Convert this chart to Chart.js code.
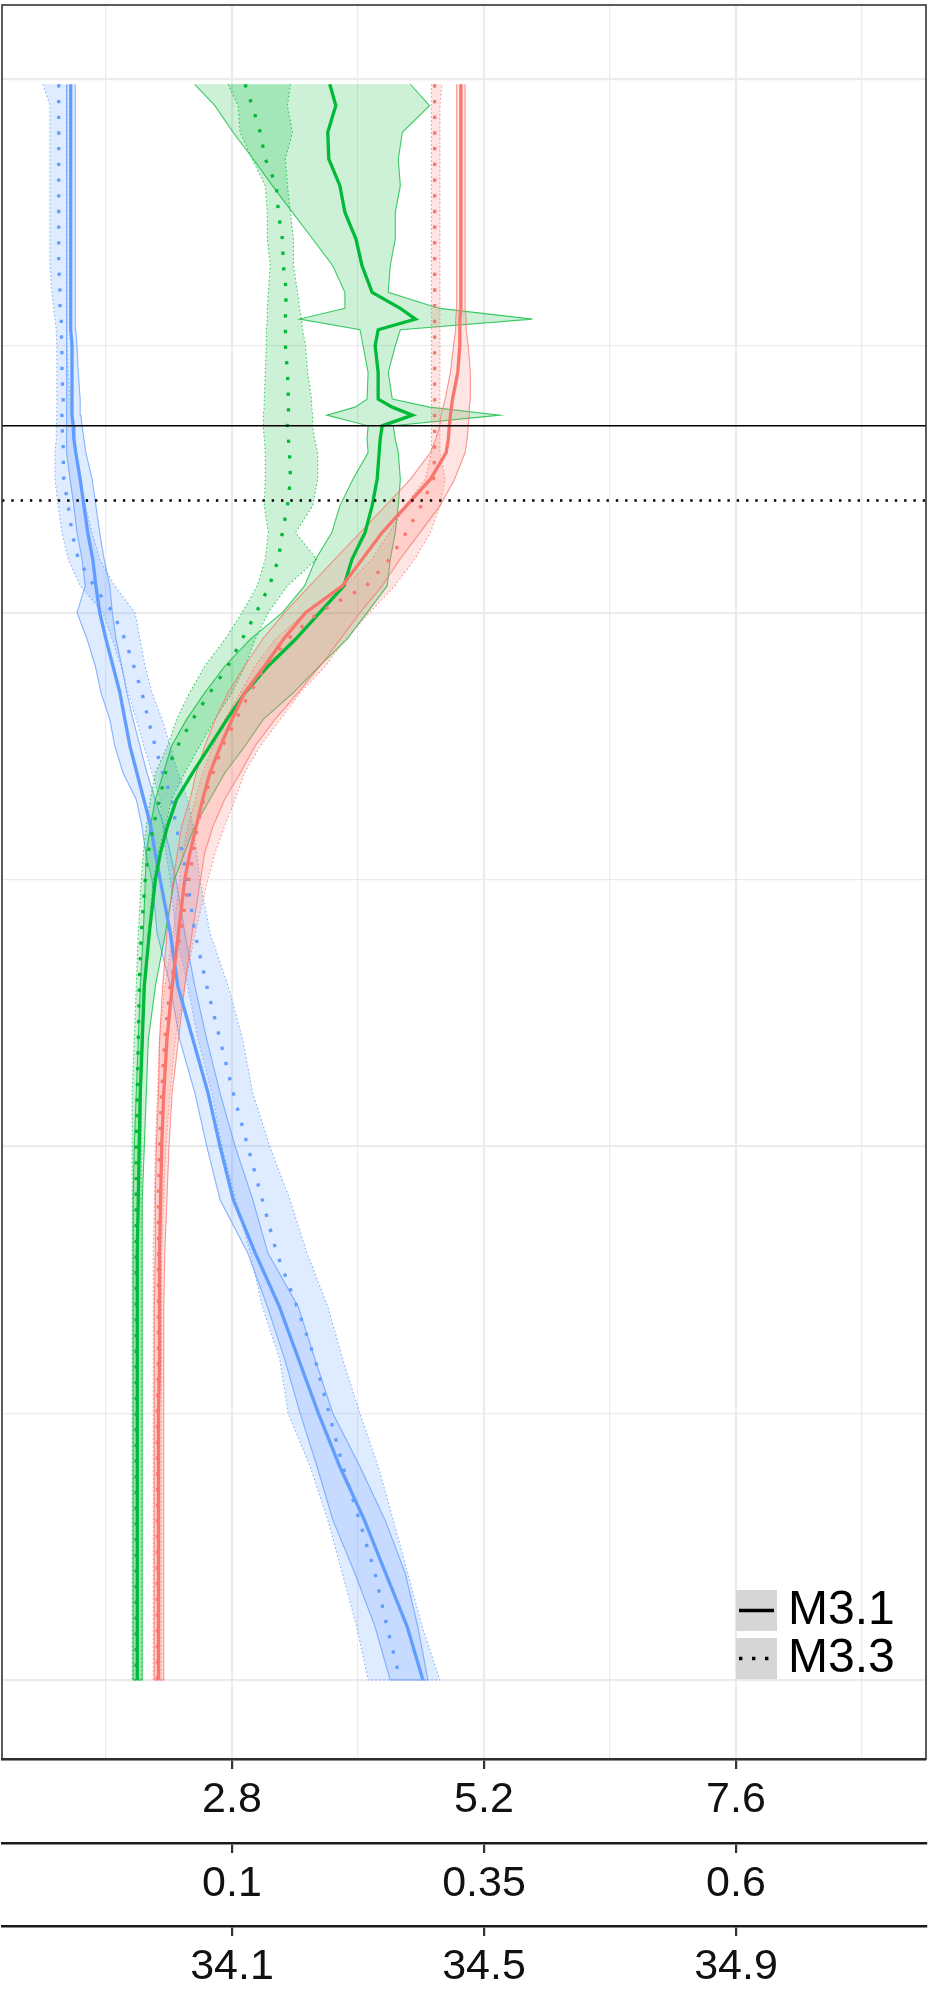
<!DOCTYPE html>
<html>
<head>
<meta charset="utf-8">
<script src="https://cdn.jsdelivr.net/npm/chart.js@4.4.1/dist/chart.umd.min.js"></script>
<style>
  html, body { margin: 0; padding: 0; background: #fff; }
  #wrap { position: relative; width: 928px; height: 1999px; }
</style>
</head>
<body>
<div id="wrap"><canvas id="profile"></canvas></div>
<script>
// ---------- data ----------
// depth of every sample (shared by all series), increasing downward
const depth = [2,10,20,30,40,50,60,70,80,86,90,94,100,110,120,123,126,130,135,140,150,
  160,170,180,190,200,210,220,230,240,250,260,270,280,290,300,
  320,340,360,380,400,420,440,460,480,500,520,540,560,580,600];

// red profile, read on the 2.8 / 5.2 / 7.6 axis
const redM31   = [4.98,4.98,4.98,4.98,4.98,4.98,4.98,4.98,4.98,4.98,4.97,4.97,4.97,4.95,4.90,4.89,4.88,4.87,4.86,4.84,4.69,
  4.46,4.23,4.04,3.85,3.50,3.29,3.11,2.92,2.80,2.69,2.59,2.52,2.46,2.40,2.35,
  2.29,2.23,2.18,2.15,2.13,2.12,2.11,2.11,2.11,2.10,2.10,2.10,2.10,2.10,2.10];
const redM31Lo = [4.94,4.94,4.94,4.94,4.94,4.94,4.94,4.94,4.94,4.94,4.93,4.93,4.91,4.88,4.83,4.81,4.79,4.78,4.74,4.69,4.50,
  4.26,4.02,3.78,3.54,3.30,3.09,2.92,2.76,2.64,2.54,2.46,2.40,2.32,2.28,2.24,
  2.18,2.14,2.11,2.10,2.08,2.07,2.07,2.06,2.06,2.06,2.06,2.06,2.06,2.06,2.06];
const redM31Hi = [5.02,5.02,5.02,5.02,5.02,5.02,5.02,5.02,5.02,5.02,5.03,5.03,5.05,5.07,5.07,5.06,5.06,5.05,5.04,5.02,4.92,
  4.78,4.59,4.40,4.23,4.02,3.83,3.64,3.43,3.21,3.02,2.88,2.73,2.62,2.54,2.50,
  2.42,2.35,2.29,2.23,2.20,2.18,2.16,2.15,2.15,2.15,2.15,2.15,2.15,2.15,2.15];
const redM33   = [4.73,4.73,4.73,4.73,4.73,4.73,4.73,4.73,4.73,4.73,4.73,4.73,4.73,4.73,4.73,4.73,4.73,4.73,4.73,4.73,4.72,
  4.60,4.46,4.30,4.08,3.62,3.33,3.12,2.97,2.84,2.71,2.62,2.53,2.47,2.43,2.39,
  2.31,2.21,2.16,2.13,2.11,2.10,2.10,2.10,2.10,2.09,2.09,2.09,2.09,2.09,2.09];
const redM33Lo = [4.70,4.70,4.70,4.70,4.70,4.70,4.70,4.70,4.70,4.70,4.70,4.70,4.70,4.70,4.70,4.70,4.70,4.70,4.70,4.70,4.64,
  4.45,4.30,4.13,3.88,3.50,3.21,3.02,2.88,2.73,2.62,2.52,2.45,2.38,2.33,2.30,
  2.24,2.16,2.11,2.09,2.07,2.06,2.05,2.05,2.05,2.05,2.05,2.05,2.05,2.05,2.05];
const redM33Hi = [4.80,4.78,4.78,4.78,4.78,4.78,4.78,4.78,4.78,4.78,4.78,4.78,4.78,4.78,4.78,4.78,4.78,4.78,4.78,4.78,4.83,
  4.78,4.69,4.54,4.35,4.11,3.88,3.69,3.45,3.26,3.07,2.92,2.83,2.73,2.64,2.57,
  2.45,2.35,2.26,2.21,2.17,2.15,2.13,2.13,2.13,2.13,2.13,2.13,2.13,2.13,2.13];

// green profile, read on the 0.1 / 0.35 / 0.6 axis
const greenM31   = [0.197,0.203,0.195,0.196,0.207,0.212,0.223,0.229,0.239,0.267,0.282,0.245,0.242,0.245,0.245,0.259,0.279,0.249,0.247,0.246,0.244,
  0.239,0.232,0.219,0.211,0.187,0.163,0.136,0.113,0.095,0.078,0.061,0.045,0.036,0.029,0.024,
  0.018,0.013,0.011,0.009,0.008,0.007,0.006,0.006,0.006,0.006,0.006,0.006,0.006,0.006,0.006];
const greenM31Lo = [0.063,0.083,0.101,0.121,0.140,0.160,0.180,0.200,0.212,0.212,0.167,0.227,0.230,0.235,0.234,0.222,0.194,0.235,0.234,0.235,0.220,
  0.207,0.199,0.183,0.172,0.150,0.118,0.093,0.073,0.055,0.040,0.032,0.024,0.019,0.015,0.014,
  0.012,0.009,0.007,0.005,0.003,0.002,0.002,0.002,0.002,0.002,0.002,0.002,0.002,0.002,0.002];
const greenM31Hi = [0.277,0.296,0.269,0.265,0.267,0.262,0.262,0.257,0.255,0.306,0.398,0.267,0.262,0.255,0.259,0.296,0.366,0.260,0.262,0.265,0.267,
  0.265,0.262,0.257,0.254,0.234,0.214,0.187,0.161,0.131,0.113,0.093,0.078,0.063,0.053,0.043,
  0.034,0.024,0.017,0.015,0.013,0.011,0.011,0.011,0.011,0.011,0.011,0.011,0.011,0.011,0.011];
const greenM33   = [0.113,0.120,0.128,0.133,0.144,0.146,0.150,0.151,0.154,0.153,0.153,0.153,0.153,0.155,0.156,0.156,0.156,0.155,0.156,0.157,0.158,
  0.155,0.150,0.146,0.137,0.124,0.110,0.096,0.078,0.061,0.046,0.034,0.028,0.022,0.017,0.014,
  0.010,0.008,0.007,0.006,0.005,0.005,0.005,0.005,0.005,0.005,0.005,0.005,0.005,0.005,0.005];
const greenM33Lo = [0.096,0.106,0.108,0.120,0.133,0.135,0.135,0.138,0.136,0.135,0.135,0.134,0.134,0.133,0.132,0.132,0.131,0.131,0.132,0.133,0.133,
  0.132,0.136,0.133,0.125,0.110,0.093,0.073,0.058,0.045,0.036,0.024,0.019,0.015,0.012,0.010,
  0.007,0.005,0.003,0.001,0.001,0.001,0.001,0.001,0.001,0.001,0.001,0.001,0.001,0.001,0.001];
const greenM33Hi = [0.158,0.155,0.160,0.153,0.155,0.158,0.161,0.161,0.165,0.167,0.169,0.170,0.173,0.175,0.179,0.179,0.180,0.180,0.182,0.185,0.185,
  0.180,0.163,0.184,0.155,0.136,0.123,0.113,0.100,0.083,0.068,0.053,0.040,0.034,0.027,0.022,
  0.017,0.013,0.012,0.010,0.010,0.010,0.010,0.010,0.010,0.010,0.010,0.010,0.010,0.010,0.010];

// blue profile, read on the 34.1 / 34.5 / 34.9 axis
const blueM31   = [33.844,33.844,33.844,33.844,33.844,33.844,33.844,33.844,33.844,33.844,33.844,33.844,33.846,33.846,33.846,33.846,33.846,33.848,33.849,33.852,33.859,
  33.865,33.871,33.879,33.884,33.890,33.900,33.911,33.922,33.930,33.938,33.949,33.960,33.971,33.978,33.986,
  34.002,34.014,34.038,34.062,34.081,34.102,34.137,34.175,34.206,34.237,34.271,34.310,34.344,34.378,34.403];
const blueM31Lo = [33.838,33.838,33.838,33.838,33.838,33.838,33.838,33.838,33.838,33.837,33.837,33.837,33.837,33.837,33.837,33.837,33.837,33.837,33.837,33.838,33.843,
  33.849,33.854,33.862,33.867,33.854,33.870,33.883,33.892,33.906,33.914,33.927,33.948,33.957,33.963,33.973,
  33.981,34.002,34.017,34.041,34.060,34.081,34.125,34.156,34.184,34.208,34.235,34.260,34.295,34.327,34.351];
const blueM31Hi = [33.851,33.851,33.851,33.851,33.851,33.851,33.851,33.851,33.851,33.852,33.852,33.852,33.854,33.856,33.859,33.859,33.860,33.862,33.865,33.868,33.878,
  33.884,33.890,33.897,33.906,33.910,33.916,33.925,33.933,33.943,33.954,33.965,33.978,33.992,34.002,34.011,
  34.025,34.041,34.060,34.081,34.105,34.133,34.157,34.205,34.232,34.260,34.303,34.343,34.375,34.395,34.411];
const blueM33   = [33.825,33.825,33.825,33.825,33.825,33.825,33.825,33.825,33.827,33.827,33.829,33.829,33.830,33.830,33.832,33.832,33.830,33.830,33.832,33.832,33.833,
  33.840,33.846,33.856,33.881,33.911,33.930,33.944,33.957,33.967,33.978,33.990,34.005,34.011,34.021,34.029,
  34.041,34.060,34.081,34.102,34.125,34.148,34.171,34.203,34.232,34.254,34.276,34.302,34.327,34.346,34.367];
const blueM33Lo = [33.800,33.811,33.811,33.811,33.811,33.811,33.811,33.811,33.814,33.817,33.819,33.821,33.822,33.822,33.822,33.822,33.822,33.821,33.821,33.819,33.819,
  33.824,33.830,33.840,33.859,33.895,33.910,33.924,33.935,33.948,33.960,33.973,33.986,33.990,33.995,34.002,
  34.011,34.030,34.046,34.068,34.084,34.106,34.129,34.148,34.176,34.189,34.224,34.252,34.275,34.298,34.316];
const blueM33Hi = [33.838,33.838,33.838,33.838,33.838,33.838,33.838,33.838,33.838,33.838,33.838,33.838,33.838,33.840,33.843,33.843,33.844,33.846,33.848,33.851,33.859,
  33.867,33.878,33.890,33.914,33.946,33.954,33.962,33.973,33.989,34.002,34.014,34.030,34.038,34.044,34.049,
  34.065,34.094,34.117,34.133,34.160,34.192,34.219,34.252,34.276,34.303,34.332,34.356,34.379,34.402,34.430];

// reference depths (solid and dotted horizontal lines)
const refSolidDepth = 130;
const refDottedDepth = 158;

// axis ticks and labels
const tempTicks  = [1.6, 2.8, 4.0, 5.2, 6.4, 7.6, 8.8];
const tempLabels = ['', '2.8', '', '5.2', '', '7.6', ''];
const midTicks   = [0.1, 0.35, 0.6];
const midLabels  = ['0.1', '0.35', '0.6'];
const salTicks   = [34.1, 34.5, 34.9];
const salLabels  = ['34.1', '34.5', '34.9'];
const depthTicks = [0, 100, 200, 300, 400, 500, 600];
const legendNames = ['M3.1', 'M3.3'];

// ---------- helpers ----------
const RED = '#F8766D', GREEN = '#00BA38', BLUE = '#619CFF';
const FONT = "'Liberation Sans', Arial, Helvetica, sans-serif";

function rgba(hex, a){
  const n = parseInt(hex.slice(1), 16);
  return `rgba(${(n>>16)&255},${(n>>8)&255},${n&255},${a})`;
}
function profile(xs){ return xs.map((v, i) => ({ x: v, y: depth[i] })); }
function band(lo, hi){
  const down = lo.map((v, i) => ({ x: v, y: depth[i] }));
  const up = hi.map((v, i) => ({ x: v, y: depth[i] })).reverse();
  return down.concat(up);
}

const series = [
  { axis: 'x',  color: RED,   mid: redM31,   lo: redM31Lo,   hi: redM31Hi,   dotted: false },
  { axis: 'x',  color: RED,   mid: redM33,   lo: redM33Lo,   hi: redM33Hi,   dotted: true },
  { axis: 'x2', color: GREEN, mid: greenM31, lo: greenM31Lo, hi: greenM31Hi, dotted: false },
  { axis: 'x2', color: GREEN, mid: greenM33, lo: greenM33Lo, hi: greenM33Hi, dotted: true },
  { axis: 'x3', color: BLUE,  mid: blueM31,  lo: blueM31Lo,  hi: blueM31Hi,  dotted: false },
  { axis: 'x3', color: BLUE,  mid: blueM33,  lo: blueM33Lo,  hi: blueM33Hi,  dotted: true }
];

const datasets = [];
series.forEach(s => {
  datasets.push({
    data: band(s.lo, s.hi), xAxisID: s.axis, yAxisID: 'y',
    backgroundColor: rgba(s.color, 0.2), borderColor: rgba(s.color, 0.75),
    borderWidth: 1.1, borderDash: s.dotted ? [1.5, 2.5] : [],
    fill: 'shape', pointRadius: 0, tension: 0, order: 2
  });
});
series.forEach(s => {
  datasets.push({
    data: profile(s.mid), xAxisID: s.axis, yAxisID: 'y',
    borderColor: s.color, borderWidth: 3.3,
    borderDash: s.dotted ? [3.3, 12.4] : [], borderCapStyle: 'butt',
    fill: false, pointRadius: 0, tension: 0, order: 1
  });
});
// horizontal reference lines across the whole panel
const X_MIN = 0.6095, X_MAX = 9.4095;
datasets.push({
  data: [{ x: X_MIN, y: refSolidDepth }, { x: X_MAX, y: refSolidDepth }],
  xAxisID: 'x', yAxisID: 'y', borderColor: '#000', borderWidth: 1.6,
  pointRadius: 0, fill: false, order: 0
});
datasets.push({
  data: [{ x: X_MIN, y: refDottedDepth }, { x: X_MAX, y: refDottedDepth }],
  xAxisID: 'x', yAxisID: 'y', borderColor: '#000', borderWidth: 2.4,
  borderDash: [2.4, 6.9], pointRadius: 0, fill: false, order: 0
});

// panel border + legend drawn on top
const panelLegend = {
  id: 'panelLegend',
  afterDraw(chart){
    const { ctx, chartArea: a } = chart;
    ctx.save();
    ctx.strokeStyle = '#333';
    ctx.lineWidth = 1.6;
    ctx.strokeRect(a.left, a.top, a.right - a.left, a.bottom - a.top);

    // legend keys, bottom right inside the panel
    const kx = a.right - 190, ky = [a.bottom - 169, a.bottom - 121], kw = 41, kh = 41;
    legendNames.forEach((name, i) => {
      ctx.fillStyle = '#d6d6d6';
      ctx.fillRect(kx, ky[i], kw, kh);
      ctx.beginPath();
      ctx.strokeStyle = '#000';
      ctx.lineWidth = 3.4;
      ctx.setLineDash(i === 0 ? [] : [3.4, 9.6]);
      ctx.moveTo(kx + 3, ky[i] + kh / 2);
      ctx.lineTo(kx + kw - 3, ky[i] + kh / 2);
      ctx.stroke();
      ctx.setLineDash([]);
      ctx.fillStyle = '#000';
      ctx.font = `48px ${FONT}`;
      ctx.textBaseline = 'alphabetic';
      ctx.fillText(name, kx + 52, ky[i] + 34);
    });
    ctx.restore();
  }
};

function majorTick(labels){
  return (c) => labels[c.index] ? '#333' : 'rgba(0,0,0,0)';
}
function bottomAxis(ticks, labels, min, max, h, onArea){
  return {
    type: 'linear', position: 'bottom', min, max,
    afterBuildTicks: (sc) => { sc.ticks = ticks.map(v => ({ value: v })); },
    afterFit: (sc) => { sc.height = h; },
    ticks: {
      autoSkip: false, maxRotation: 0, padding: 5,
      color: '#111', font: { family: FONT, size: 43 },
      callback: (v, i) => labels[i]
    },
    grid: {
      drawOnChartArea: onArea, drawTicks: true, tickLength: 10,
      tickColor: majorTick(labels), tickWidth: 2.2,
      color: '#ebebeb',
      lineWidth: (c) => labels[c.index] ? 2.2 : 1.2
    },
    border: { display: true, color: '#1a1a1a', width: 2.6 }
  };
}

new Chart(document.getElementById('profile'), {
  type: 'line',
  data: { datasets },
  options: {
    responsive: true, maintainAspectRatio: false,
    devicePixelRatio: 1, animation: false, events: [],
    layout: { padding: { top: 5, right: 2, left: 0, bottom: 0 } },
    plugins: { legend: { display: false }, tooltip: { enabled: false } },
    scales: {
      x:  bottomAxis(tempTicks, tempLabels, X_MIN, X_MAX, 84, true),
      x2: bottomAxis(midTicks, midLabels, -0.12817, 0.78849, 83, false),
      x3: bottomAxis(salTicks, salLabels, 33.73492, 35.20159, 73, false),
      y: {
        type: 'linear', reverse: true, min: -27.7, max: 629.6,
        afterBuildTicks: (sc) => { sc.ticks = depthTicks.map(v => ({ value: v })); },
        afterFit: (sc) => { sc.width = 2; },
        ticks: { display: false },
        grid: {
          drawTicks: false, color: '#ebebeb',
          lineWidth: (c) => (depthTicks[c.index] % 200 === 0) ? 2.2 : 1.2
        },
        border: { display: false }
      }
    }
  },
  plugins: [panelLegend]
});
</script>
</body>
</html>
